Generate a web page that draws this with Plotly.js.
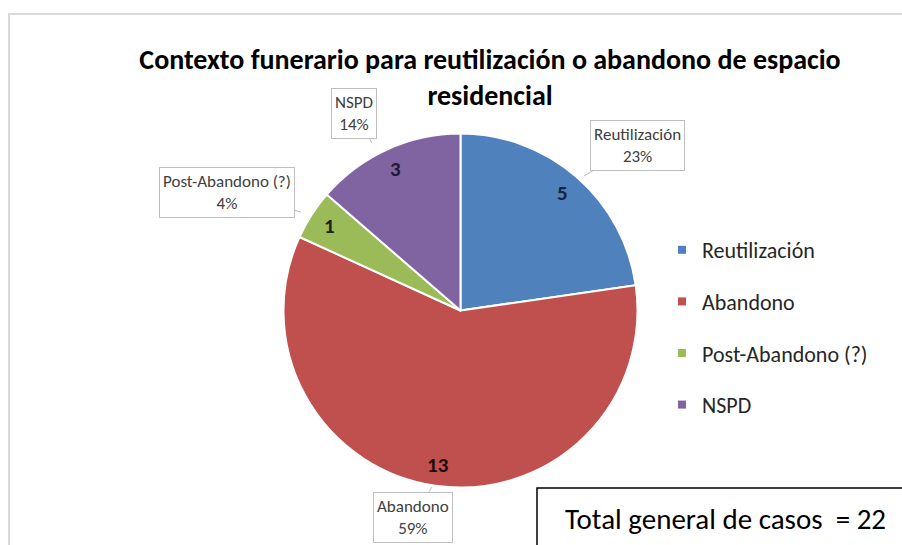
<!DOCTYPE html>
<html>
<head>
<meta charset="utf-8">
<script src="https://cdn.plot.ly/plotly-3.0.1.min.js"></script>
<style>html,body{margin:0;padding:0;background:#fff;}#chart{width:902px;height:545px;}</style>
</head>
<body>
<div id="chart"></div>
<script>
// Data
const labels = ['Reutilización', 'Abandono', 'Post-Abandono (?)', 'NSPD'];
const values = [5, 13, 1, 3];
const percents = [23, 59, 4, 14]; // as printed on the chart
const colors = ['#4F81BD', '#C0504D', '#9BBB59', '#8064A2'];
const valueTextColors = ['#16243d', '#1a0d0d', '#1a2410', '#221a36'];
const chartTitle = 'Contexto funerario para reutilización o abandono de espacio<br>residencial';
const totalLabel = 'Total general de casos  = ';

const W = 902, H = 545;
const px = x => x / W;
const py = y => 1 - y / H;
const FONT = 'Carlito, Lato, sans-serif';

// Pie geometry (pixels)
const cx = 460.5, cy = 310.5, R = 177;

const pie = {
  type: 'pie',
  labels: labels,
  values: values,
  sort: false,
  direction: 'clockwise',
  rotation: 0,
  marker: { colors: colors, line: { color: '#ffffff', width: 2 } },
  textinfo: 'none',
  showlegend: false,
  hoverinfo: 'label+value+percent',
  domain: { x: [px(cx - R), px(cx + R)], y: [py(cy + R), py(cy - R)] }
};

// Legend entries via placeholder traces so spacing can be controlled
const legendTraces = labels.map((l, i) => ({
  type: 'scatter', mode: 'markers', x: [null], y: [null],
  name: l, legendgroup: 'g' + i,
  marker: { symbol: 'square', size: 8, color: colors[i] },
  showlegend: true, hoverinfo: 'skip'
}));

const total = values.reduce((a, b) => a + b, 0);

// Value labels placed along each slice's mid-angle (derived from the data)
const annotations = [];
let cum = 0;
values.forEach((v, i) => {
  const mid = (cum + v / 2) / total * 2 * Math.PI;
  cum += v;
  const rf = 0.88;
  annotations.push({
    xref: 'paper', yref: 'paper',
    x: px(cx + rf * R * Math.sin(mid)), y: py(cy - rf * R * Math.cos(mid)),
    xanchor: 'center', yanchor: 'middle', showarrow: false,
    text: '<b>' + v + '</b>',
    font: { family: FONT, size: 21, color: valueTextColors[i] }
  });
});

// Callout boxes: [box center px, tip px]
const callouts = [
  { c: [637, 145], t: [584, 176] },
  { c: [413, 517], t: [432, 487] },
  { c: [227, 192], t: [301, 212] },
  { c: [354, 113], t: [372, 143] }
];

labels.forEach((l, i) => annotations.push({
  xref: 'paper', yref: 'paper',
  x: px(callouts[i].t[0]), y: py(callouts[i].t[1]),
  ax: callouts[i].c[0] - callouts[i].t[0], ay: callouts[i].c[1] - callouts[i].t[1],
  axref: 'pixel', ayref: 'pixel',
  text: l + '<br>' + percents[i] + '%',
  showarrow: true, arrowhead: 0, arrowwidth: 1, arrowcolor: '#bfbfbf',
  font: { family: FONT, size: 17, color: '#404040' },
  bgcolor: '#ffffff', bordercolor: '#bfbfbf', borderwidth: 1, borderpad: 3,
  align: 'center'
}));

annotations.push({
  xref: 'paper', yref: 'paper', x: px(725), y: py(519),
  xanchor: 'center', yanchor: 'middle', showarrow: false,
  text: totalLabel + total,
  font: { family: FONT, size: 29, color: '#000000' }
});

const layout = {
  width: W, height: H,
  margin: { l: 0, r: 0, t: 0, b: 0 },
  paper_bgcolor: '#ffffff', plot_bgcolor: 'rgba(0,0,0,0)',
  title: {
    text: chartTitle,
    font: { family: FONT, size: 28, color: '#000000', weight: 'bold' },
    x: px(490), xanchor: 'center', y: py(69), yanchor: 'middle', yref: 'container'
  },
  xaxis: { visible: false, domain: [0, 0.01] },
  yaxis: { visible: false, domain: [0, 0.01] },
  legend: {
    x: px(662), xanchor: 'left', y: py(229), yanchor: 'top',
    font: { family: FONT, size: 22, color: '#262626' },
    tracegroupgap: 20, bgcolor: 'rgba(0,0,0,0)'
  },
  shapes: [
    { type: 'rect', xref: 'paper', yref: 'paper', x0: px(9), y0: py(14), x1: 1.05, y1: -0.05,
      line: { color: '#d9d9d9', width: 2 }, fillcolor: 'rgba(0,0,0,0)', layer: 'below' },
    { type: 'rect', xref: 'paper', yref: 'paper', x0: px(537), y0: py(488), x1: 1.05, y1: -0.05,
      line: { color: '#000000', width: 1.5 }, fillcolor: '#ffffff' }
  ],
  annotations: annotations
};

Plotly.newPlot('chart', [pie].concat(legendTraces), layout, { staticPlot: true, displayModeBar: false });
</script>
</body>
</html>
